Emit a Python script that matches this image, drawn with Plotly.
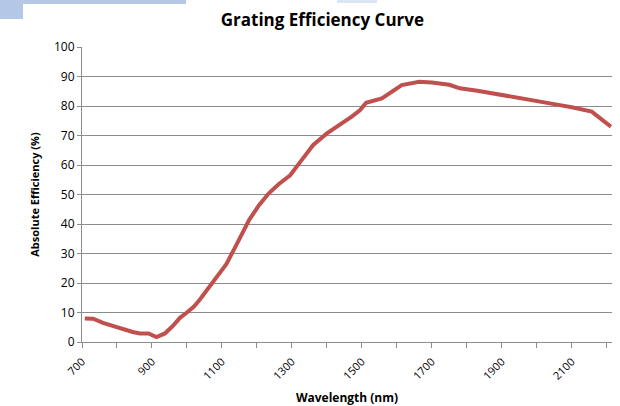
import plotly.graph_objects as go

# readings
wavelength_nm = [708, 732, 760, 790, 820, 845, 866, 890, 913, 937, 960, 980, 999,
                 1020, 1037, 1060, 1085, 1113, 1135, 1155, 1178, 1206, 1234, 1262,
                 1295, 1330, 1361, 1400, 1440, 1471, 1495, 1512, 1557, 1614, 1664,
                 1700, 1750, 1780, 1830, 1866, 1920, 1960, 2010, 2066, 2100, 2157, 2212]
efficiency_pct = [8.0, 7.9, 6.5, 5.3, 4.2, 3.4, 2.9, 2.9, 1.7, 2.9, 5.5, 8.2, 9.9,
                  12.0, 14.4, 18.0, 22.0, 26.5, 31.5, 36.3, 41.4, 46.4, 50.4, 53.5,
                  56.5, 62.0, 66.8, 70.7, 73.8, 76.4, 78.6, 81.1, 82.6, 87.1, 88.2,
                  88.0, 87.2, 86.0, 85.2, 84.5, 83.2, 82.5, 81.5, 80.3, 79.6, 78.1, 73.0]

GRID = "#8c8c8c"
FONT = "Open Sans"

fig = go.Figure(
    go.Scatter(x=wavelength_nm, y=efficiency_pct, mode="lines", cliponaxis=False,
               line=dict(color="#c0504d", width=4), hoverinfo="x+y")
)

fig.update_layout(
    width=620, height=406,
    margin=dict(l=82, r=8, t=47, b=64),
    paper_bgcolor="white", plot_bgcolor="white",
    showlegend=False,
    font=dict(family=FONT, size=11, color="#000000"),
    title=dict(text="<b>Grating Efficiency Curve</b>", x=0.52, xanchor="center",
               y=0.95, yanchor="middle", font=dict(size=17, family=FONT)),
    shapes=[
        dict(type="rect", xref="paper", yref="paper", x0=-82/530, x1=(186-82)/530,
             y0=1 + 43/295, y1=1 + 47/295, fillcolor="#b4c7e7", line=dict(width=0)),
        dict(type="rect", xref="paper", yref="paper", x0=-82/530, x1=(23-82)/530,
             y0=1 + 28/295, y1=1 + 47/295, fillcolor="#b4c7e7", line=dict(width=0)),
        dict(type="rect", xref="paper", yref="paper", x0=(337-82)/530, x1=(377-82)/530,
             y0=1 + 44/295, y1=1 + 47/295, fillcolor="#dce6f4", line=dict(width=0)),
    ],
)

fig.update_xaxes(
    range=[700, 2215], tick0=700, dtick=200, tickangle=-45, automargin=False,
    ticks="outside", ticklen=5, tickcolor=GRID, ticklabelstandoff=3,
    showline=True, linecolor=GRID, linewidth=1,
    showgrid=False, zeroline=False,
    minor=dict(dtick=100, tick0=700, ticks="outside", ticklen=5, tickcolor=GRID, showgrid=False),
    tickfont=dict(size=11),
    title=dict(text="<b>Wavelength (nm)</b>", font=dict(size=12), standoff=14),
)
fig.update_yaxes(
    range=[0, 100], dtick=10, automargin=False,
    ticks="outside", ticklen=4, tickcolor=GRID,
    showline=True, linecolor=GRID, linewidth=1,
    showgrid=True, gridcolor=GRID, gridwidth=1, zeroline=False,
    tickfont=dict(size=12),
    title=dict(text="<b>Absolute Efficiency (%)</b>", font=dict(size=11), standoff=12),
)

# drop the browser's default 8px body margin so the figure sits at the page corner
fig.write_html("out.html", config={"displayModeBar": False},
               post_script="document.body.style.margin='0';")
